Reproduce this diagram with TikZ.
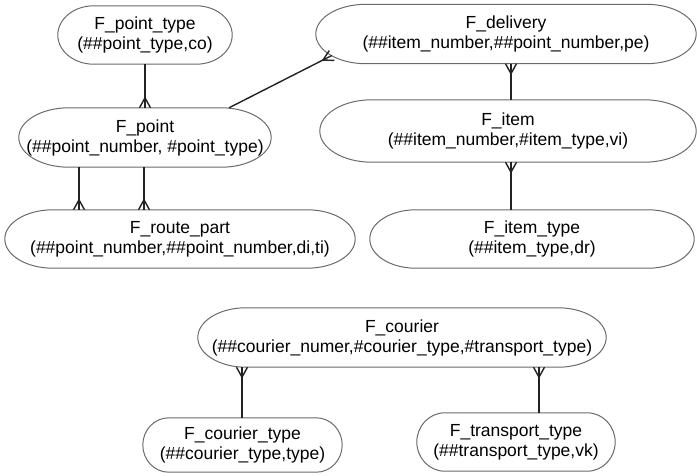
\documentclass[tikz,border=0pt]{standalone}
\usepackage{fontspec}
\setmainfont{Liberation Sans}
\usetikzlibrary{calc}

% crow's foot: three prongs fanning out towards the entity border
\pgfdeclarearrow{
  name=Crow,
  setup code={
    \pgfarrowssettipend{0pt}
    \pgfarrowssetlineend{0pt}
    \pgfarrowssetbackend{-10pt}
    \pgfarrowssetvisualbackend{-10pt}
    \pgfarrowshullpoint{0pt}{5.5pt}
    \pgfarrowshullpoint{0pt}{-5.5pt}
    \pgfarrowshullpoint{-10pt}{0pt}
  },
  drawing code={
    \pgfsetdash{}{0pt}
    \pgfpathmoveto{\pgfqpoint{0pt}{5.5pt}}
    \pgfpathlineto{\pgfqpoint{-10pt}{0pt}}
    \pgfpathlineto{\pgfqpoint{0pt}{-5.5pt}}
    \pgfusepathqstroke
  },
}

\definecolor{outlinegray}{HTML}{6A6A6A}
\definecolor{linkblack}{HTML}{222222}

% outline of an entity: flat top and bottom, elliptic ends of x radius #2
\newcommand\pilloutline[2]{%
  \draw[entityline] let \p1=(#1.north), \p2=(#1.south), \n1={0.5*(\y1-\y2)} in
    ([xshift=#2]#1.north west) -- ([xshift=-#2]#1.north east)
    arc[start angle=90, end angle=-90, x radius=#2, y radius={\n1*1pt}]
    -- ([xshift=#2]#1.south west)
    arc[start angle=270, end angle=90, x radius=#2, y radius={\n1*1pt}]
    -- cycle;
}

\begin{document}
\begin{tikzpicture}[x=1pt, y=-1pt,
  entity/.style={rectangle, draw=none, inner sep=0pt, align=center,
    font=\fontsize{17.5}{20}\selectfont, text=black},
  entityline/.style={draw=outlinegray, line width=1pt},
  link/.style={draw=linkblack, line width=1.4pt},
]
\useasboundingbox (0,0) rectangle (697,475);

% entities
\node[entity, minimum width=174pt, minimum height=58pt] (pt) at (145,35)
  {F\_point\_type\\(\#\#point\_type,co)};
\node[entity, minimum width=380pt, minimum height=59pt] (dl) at (506,34)
  {F\_delivery\\(\#\#item\_number,\#\#point\_number,pe)};
\node[entity, minimum width=252pt, minimum height=59pt] (p) at (145,137.5)
  {F\_point\\(\#\#point\_number, \#point\_type)};
\node[entity, minimum width=376pt, minimum height=62pt] (it) at (508,131)
  {F\_item\\(\#\#item\_number,\#item\_type,vi)};
\node[entity, minimum width=350pt, minimum height=58pt] (rp) at (180,239)
  {F\_route\_part\\(\#\#point\_number,\#\#point\_number,di,ti)};
\node[entity, minimum width=324pt, minimum height=58pt] (ity) at (532,239)
  {F\_item\_type\\(\#\#item\_type,dr)};
\node[entity, minimum width=408pt, minimum height=59pt] (co) at (402,337.5)
  {F\_courier\\(\#\#courier\_numer,\#courier\_type,\#transport\_type)};
\node[entity, minimum width=199pt, minimum height=54pt] (ct) at (242.5,445)
  {F\_courier\_type\\(\#\#courier\_type,type)};
\node[entity, minimum width=198pt, minimum height=58pt] (tt) at (516,442)
  {F\_transport\_type\\(\#\#transport\_type,vk)};

\pilloutline{pt}{36pt}
\pilloutline{dl}{50pt}
\pilloutline{p}{50pt}
\pilloutline{it}{52pt}
\pilloutline{rp}{48pt}
\pilloutline{ity}{46pt}
\pilloutline{co}{48pt}
\pilloutline{ct}{26pt}
\pilloutline{tt}{28pt}

% x positions of the vertical links
\coordinate (xa) at (79,0);
\coordinate (xb) at (144,0);
\coordinate (xc) at (511,0);
\coordinate (xd) at (242,0);
\coordinate (xe) at (539,0);
% point on the lower left end of F_delivery
\coordinate (dlfoot) at ([shift={(16pt,-21.5pt)}]dl.west);

% relationships
\draw[link,-Crow] (pt) -- (p);
\draw[link,-Crow] ([xshift=84pt]p.north) -- (dlfoot);
\draw[link,Crow-] (dl.south -| xc) -- (it.north -| xc);
\draw[link,Crow-] (it.south -| xc) -- (ity.north -| xc);
\draw[link,-Crow] (p.south -| xa) -- (rp.north -| xa);
\draw[link,-Crow] (p.south -| xb) -- (rp.north -| xb);
\draw[link,Crow-] (co.south -| xd) -- (ct.north -| xd);
\draw[link,Crow-] (co.south -| xe) -- (tt.north -| xe);
\end{tikzpicture}
\end{document}
